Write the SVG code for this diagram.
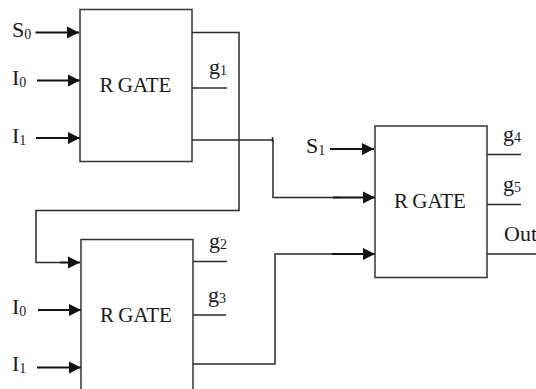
<svg xmlns="http://www.w3.org/2000/svg" width="536" height="389" viewBox="0 0 536 389">
<style>
.b{fill:#fff;stroke:#333;stroke-width:1.5}
.l{fill:none;stroke:#2a2a2a;stroke-width:1.5}
.a{fill:none;stroke:#111;stroke-width:1.8;marker-end:url(#h)}
text{font-family:"Liberation Serif","Times New Roman",serif;fill:#1a1a1a;font-size:22px}
.t{font-size:21px;word-spacing:-1px}
.s{font-size:14px}
</style>
<defs><marker id="h" markerUnits="userSpaceOnUse" markerWidth="13" markerHeight="14" refX="12" refY="7" orient="auto"><path d="M0 1L12 7L0 13Z" fill="#111"/></marker></defs>
<rect width="536" height="389" fill="#fff"/>
<g id="connectors">
<path class="l" d="M192 32.500H239V210.500H36V262.500H68"/>
<path class="a" d="M60 262.500H80"/>
<path class="l" d="M192 140H273V197.500H340"/>
<path class="a" d="M333 197.500H375"/>
<path class="l" d="M272.500 137V142"/>
<path class="l" d="M193 364H275V254H340"/>
<path class="a" d="M332 254H375"/>
<path class="a" d="M35.500 32.500H79"/>
<path class="a" d="M37 80.500H80"/>
<path class="a" d="M36 138H80"/>
<path class="a" d="M38 310H81"/>
<path class="a" d="M37 367.500H81"/>
<path class="a" d="M330 149H374"/>
<path class="l" d="M192 88H227"/>
<path class="l" d="M193 261.500H227"/>
<path class="l" d="M192 315H226"/>
<path class="l" d="M487 154.500H521"/>
<path class="l" d="M487 204.500H521"/>
<path class="l" d="M487 254H536"/>
</g>
<g id="gate1"><rect class="b" x="80" y="9.500" width="112" height="152"/><text class="t" x="99.500" y="91.500">R GATE</text></g>
<g id="gate2"><rect class="b" x="81" y="239.500" width="112" height="160"/><text class="t" x="100" y="321.500">R GATE</text></g>
<g id="gate3"><rect class="b" x="375" y="126" width="112" height="151.500"/><text class="t" x="394" y="207.500">R GATE</text></g>
<g id="labels">
<text x="12" y="37">S<tspan class="s" dy="2">0</tspan></text>
<text x="12" y="85">I<tspan class="s" dy="2">0</tspan></text>
<text x="12" y="143">I<tspan class="s" dy="2">1</tspan></text>
<text x="12" y="314">I<tspan class="s" dy="2">0</tspan></text>
<text x="12" y="371">I<tspan class="s" dy="2">1</tspan></text>
<text x="306" y="153">S<tspan class="s" dy="2">1</tspan></text>
<text x="209" y="74">g<tspan class="s" dy="1">1</tspan></text>
<text x="209" y="248">g<tspan class="s" dy="1">2</tspan></text>
<text x="208" y="302">g<tspan class="s" dy="1">3</tspan></text>
<text x="503" y="141">g<tspan class="s" dy="1">4</tspan></text>
<text x="503" y="191">g<tspan class="s" dy="1">5</tspan></text>
<text x="504" y="241">Out</text>
</g>
</svg>
